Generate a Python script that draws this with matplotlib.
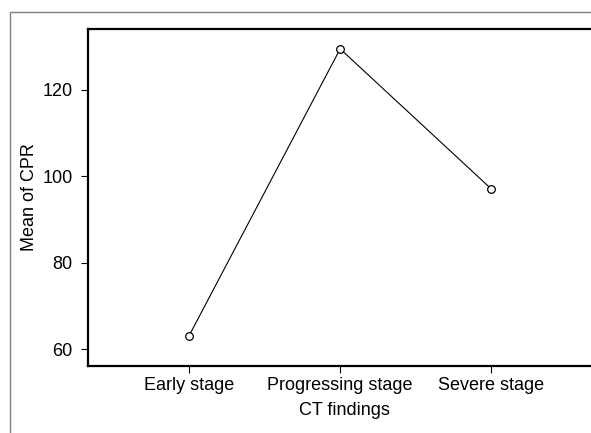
import matplotlib
matplotlib.use("Agg")
import matplotlib.pyplot as plt
from matplotlib.patches import Rectangle

stages = ["Early stage", "Progressing stage", "Severe stage"]
mean_cpr = [63.1, 129.5, 97.1]
y_ticks = [60, 80, 100, 120]


def main():
    plt.rcParams['font.family'] = ['Liberation Sans', 'DejaVu Sans']
    fig = plt.figure(figsize=(5.91, 4.33), dpi=100)

    # outer gray frame (cut off at right and bottom)
    fig.patches.append(Rectangle((10 / 591, -0.1), 1.2, 1.1 - 12 / 433,
                                 transform=fig.transFigure, fill=False,
                                 edgecolor='#808080', linewidth=1.0))

    ax = fig.add_axes([88 / 591, 67 / 433, 512 / 591, 337 / 433])
    x = list(range(1, len(stages) + 1))
    ax.plot(x, mean_cpr, color='black', linewidth=0.8, marker='o',
            markersize=5.5, markerfacecolor='white', markeredgecolor='black',
            markeredgewidth=0.9)

    ax.set_xlim(0.331, 3.72)
    ax.set_ylim(56.1, 134.1)
    ax.set_xticks(x)
    ax.set_xticklabels(stages)
    ax.set_yticks(y_ticks)
    ax.tick_params(axis='both', labelsize=13, length=5, width=0.8,
                   direction='out')
    ax.tick_params(axis='y', pad=6)
    ax.tick_params(axis='x', pad=3)
    for s in ax.spines.values():
        s.set_linewidth(1.6)
    ax.set_xlabel("CT findings", fontsize=13, labelpad=6)
    ax.set_ylabel("Mean of CPR", fontsize=13, labelpad=3)

    fig.savefig("out.png", dpi=100)


if __name__ == "__main__":
    main()
